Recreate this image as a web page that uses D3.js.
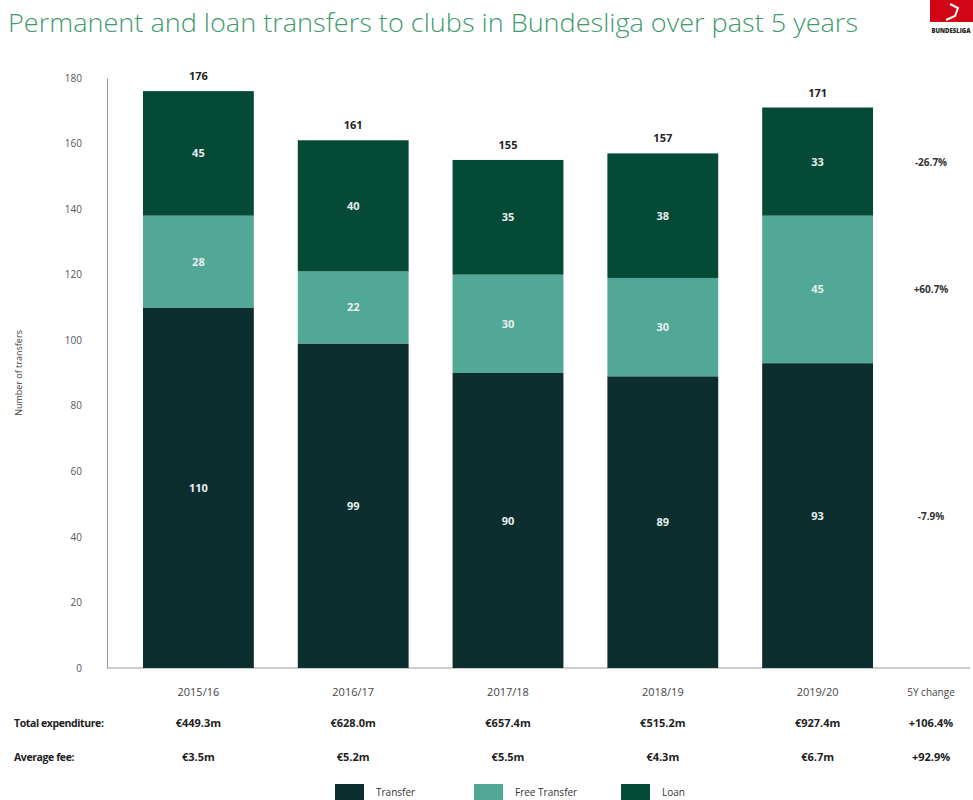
<!DOCTYPE html>
<html>
<head>
<meta charset="utf-8">
<script src="https://cdn.jsdelivr.net/npm/d3@7"></script>
<style>
  body { margin: 0; background: #fff; }
  text { font-family: 'Open Sans', sans-serif; }
</style>
</head>
<body>
<div class="canvas"></div>
<script>
const seasons = ['2015/16', '2016/17', '2017/18', '2018/19', '2019/20']
const regular = [110, 99, 90, 89, 93]
const freeTransfer = [28, 22, 30, 30, 45]
const loan = [45, 40, 35, 38, 33]
const totals = [176, 161, 155, 157, 171]
const expenditure = ['€449.3m', '€628.0m', '€657.4m', '€515.2m', '€927.4m']
const avgFee = ['€3.5m', '€5.2m', '€5.5m', '€4.3m', '€6.7m']
const changeSeries = ['-7.9%', '+60.7%', '-26.7%']
const changeRows = ['+106.4%', '+92.9%']
const yTicks = [0, 20, 40, 60, 80, 100, 120, 140, 160, 180]
const legendLabels = ['Transfer', 'Free Transfer', 'Loan']

const colors = ['#0c2e2f', '#52a896', '#054a37']

const dimension = { width: 973, height: 800 }
const margin = { top: 78, left: 107, bottom: 132, right: 100 }

const svg = d3.select('.canvas')
  .append('svg')
  .attr('width', dimension.width)
  .attr('height', dimension.height)

// stacked rows; loan segment tops out at the printed total
const rows = seasons.map((s, i) => ({
  season: s,
  segs: [
    { y0: 0, y1: regular[i], label: regular[i] },
    { y0: regular[i], y1: regular[i] + freeTransfer[i], label: freeTransfer[i] },
    { y0: regular[i] + freeTransfer[i], y1: totals[i], label: loan[i] }
  ]
}))

const y = d3.scaleLinear()
  .domain([0, 180])
  .range([668, 78])

const x = d3.scaleBand()
  .domain(seasons)
  .range([121, 895])
  .paddingInner(0.284)
  .paddingOuter(0.142)

// subtitle (main title is cut off at the top in the source)
svg.append('text')
  .attr('x', 8).attr('y', 32)
  .attr('font-family', 'Roboto')
  .attr('font-weight', 300)
  .attr('font-size', 25)
  .attr('fill', '#3f9a6e')
  .attr('textLength', 850)
  .attr('lengthAdjust', 'spacingAndGlyphs')
  .text('Permanent and loan transfers to clubs in Bundesliga over past 5 years')

// logo
svg.append('rect').attr('x', 930).attr('y', 0).attr('width', 43).attr('height', 22).attr('fill', '#d20515')
svg.append('path').attr('d', 'M950,4 L958,8 L955,16 L946,20').attr('stroke', '#fff').attr('stroke-width', 2).attr('fill', 'none')
svg.append('text')
  .attr('x', 951).attr('y', 33)
  .attr('text-anchor', 'middle')
  .attr('font-size', 6).attr('font-weight', 800)
  .attr('fill', '#222')
  .text('BUNDESLIGA')

// y axis
const yAxis = d3.axisLeft(y).tickValues(yTicks).tickSize(0).tickPadding(25)
const gy = svg.append('g')
  .attr('transform', `translate(${margin.left}, 0)`)
  .call(yAxis)
gy.select('.domain').attr('stroke', '#999')
gy.selectAll('text')
  .attr('font-family', 'Open Sans')
  .attr('font-size', 10)
  .attr('fill', '#555')

svg.append('line')
  .attr('x1', margin.left).attr('x2', 970)
  .attr('y1', y(0)).attr('y2', y(0))
  .attr('stroke', '#999')

svg.append('text')
  .attr('transform', `translate(22, ${y(90)}) rotate(-90)`)
  .attr('text-anchor', 'middle')
  .attr('font-size', 9)
  .attr('fill', '#444')
  .text('Number of transfers')

// bars
const groups = svg.selectAll('.bar')
  .data(rows)
  .enter()
  .append('g')
    .attr('class', 'bar')
    .attr('transform', d => `translate(${x(d.season)}, 0)`)

groups.selectAll('rect')
  .data(d => d.segs)
  .enter()
  .append('rect')
    .attr('x', 0)
    .attr('width', x.bandwidth())
    .attr('y', d => y(d.y1))
    .attr('height', d => y(d.y0) - y(d.y1))
    .attr('fill', (d, i) => colors[i])

groups.selectAll('.seg-label')
  .data(d => d.segs)
  .enter()
  .append('text')
    .attr('class', 'seg-label')
    .attr('x', x.bandwidth() / 2)
    .attr('y', d => y((d.y0 + d.y1) / 2) + 4)
    .attr('text-anchor', 'middle')
    .attr('font-size', 11)
    .attr('font-weight', 700)
    .attr('fill', '#e8eeee')
    .text(d => d.label)

groups.append('text')
  .attr('x', x.bandwidth() / 2)
  .attr('y', (d, i) => y(totals[i]) - 11)
  .attr('text-anchor', 'middle')
  .attr('font-size', 11)
  .attr('font-weight', 700)
  .attr('fill', '#222')
  .text((d, i) => totals[i])

// 5Y change beside last bar
const last = rows[rows.length - 1]
svg.selectAll('.change')
  .data(last.segs)
  .enter()
  .append('text')
    .attr('class', 'change')
    .attr('x', 931)
    .attr('y', (d, i) => y((d.y0 + d.y1) / 2) + 4)
    .attr('text-anchor', 'middle')
    .attr('font-size', 10)
    .attr('font-weight', 700)
    .attr('fill', '#333')
    .text((d, i) => changeSeries[i])

// bottom table
const center = s => x(s) + x.bandwidth() / 2
svg.selectAll('.season')
  .data(seasons)
  .enter()
  .append('text')
    .attr('x', d => center(d))
    .attr('y', 696)
    .attr('text-anchor', 'middle')
    .attr('font-size', 11)
    .attr('fill', '#444')
    .text(d => d)

svg.append('text')
  .attr('x', 931).attr('y', 696)
  .attr('text-anchor', 'middle')
  .attr('font-size', 10)
  .attr('fill', '#444')
  .text('5Y change')

const tableRows = [
  { label: 'Total expenditure:', values: expenditure, change: changeRows[0], y: 727 },
  { label: 'Average fee:', values: avgFee, change: changeRows[1], y: 761 }
]

tableRows.forEach(r => {
  svg.append('text')
    .attr('x', 14).attr('y', r.y)
    .attr('font-size', 10.5)
    .attr('font-weight', 700)
    .attr('fill', '#222')
    .attr('letter-spacing', -0.4)
    .text(r.label)
  svg.selectAll(null)
    .data(r.values)
    .enter()
    .append('text')
      .attr('x', (d, i) => center(seasons[i]))
      .attr('y', r.y)
      .attr('text-anchor', 'middle')
      .attr('font-size', 11)
      .attr('font-weight', 700)
      .attr('fill', '#222')
      .text(d => d)
  svg.append('text')
    .attr('x', 931).attr('y', r.y)
    .attr('text-anchor', 'middle')
    .attr('font-size', 11)
    .attr('font-weight', 700)
    .attr('fill', '#222')
    .text(r.change)
})

// legend
const legendX = [335, 474, 621]
const legend = svg.selectAll('.legend')
  .data(legendLabels)
  .enter()
  .append('g')
    .attr('class', 'legend')
    .attr('transform', (d, i) => `translate(${legendX[i]}, 784)`)

legend.append('rect')
  .attr('width', 29).attr('height', 16)
  .attr('fill', (d, i) => colors[i])

legend.append('text')
  .attr('x', 41).attr('y', 12)
  .attr('font-size', 10)
  .attr('fill', '#333')
  .text(d => d)
</script>
</body>
</html>
